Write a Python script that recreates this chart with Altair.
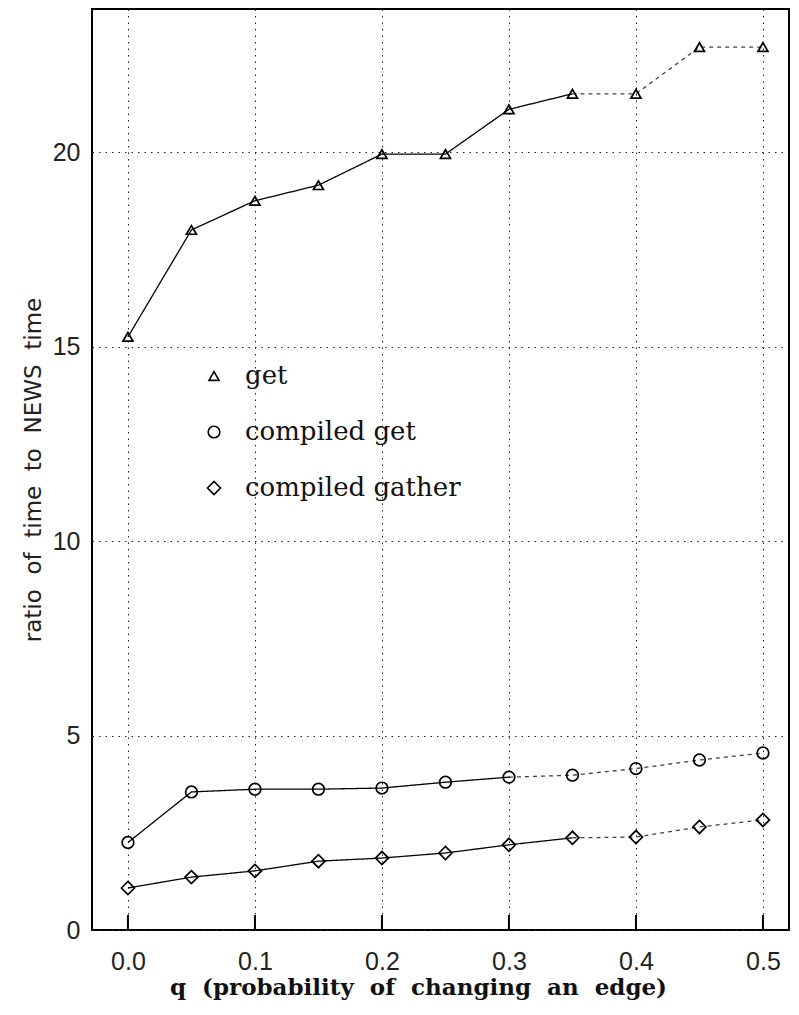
import altair as alt
import pandas as pd

# ---- data ----
q = [0.0, 0.05, 0.1, 0.15, 0.2, 0.25, 0.3, 0.35, 0.4, 0.45, 0.5]
get_vals = [15.25, 18.0, 18.75, 19.15, 19.95, 19.95, 21.1, 21.5, 21.5, 22.7, 22.7]
compiled_get = [2.25, 3.55, 3.62, 3.62, 3.65, 3.8, 3.93, 3.98, 4.15, 4.37, 4.55]
compiled_gather = [1.08, 1.36, 1.52, 1.77, 1.85, 1.98, 2.19, 2.37, 2.39, 2.65, 2.83]

series_names = ["get", "compiled get", "compiled gather"]
series_shapes = ["triangle-up", "circle", "diamond"]
series_sizes = [100, 170, 120]
solid_until = {"get": 0.35, "compiled get": 0.3, "compiled gather": 0.35}

x_ticks = [0.0, 0.1, 0.2, 0.3, 0.4, 0.5]
y_ticks = [0, 5, 10, 15, 20]

# ---- tables ----
pts = []
lines = []
for name, vals in zip(series_names, [get_vals, compiled_get, compiled_gather]):
    cut = solid_until[name]
    for xv, yv in zip(q, vals):
        pts.append({"series": name, "q": xv, "v": yv})
        if xv <= cut + 1e-9:
            lines.append({"series": name, "q": xv, "v": yv, "part": "solid"})
        if xv >= cut - 1e-9:
            lines.append({"series": name, "q": xv, "v": yv, "part": "faded"})
pts = pd.DataFrame(pts)
lines = pd.DataFrame(lines)
ticks_df = pd.DataFrame({"t": x_ticks})

W, H = 697, 921
xscale = alt.Scale(domain=[-0.0283, 0.5205], nice=False, zero=False)
yscale = alt.Scale(domain=[0, 23.68], nice=False, zero=False)

x_axis = alt.Axis(
    values=x_ticks, format=".1f", domain=False, ticks=False,
    grid=True, gridDash=[1.5, 5], gridColor="#222", gridWidth=1,
    labelFont="Liberation Sans", labelFontSize=25, labelColor="#222",
    labelPadding=19,
    title="q\u00a0\u00a0(probability\u00a0\u00a0of\u00a0\u00a0changing\u00a0\u00a0an\u00a0\u00a0edge)",
    titleFont="DejaVu Serif", titleFontSize=23, titleFontWeight="bold",
    titleColor="#111", titleX=326, titleY=57, titleBaseline="middle",
)
y_axis = alt.Axis(
    values=y_ticks, format="d", domain=False, ticks=False,
    grid=True, gridDash=[1.5, 5], gridColor="#222", gridWidth=1,
    labelFont="Liberation Sans", labelFontSize=25, labelColor="#222",
    labelPadding=12,
    title="ratio\u00a0\u00a0of\u00a0\u00a0time\u00a0\u00a0to\u00a0\u00a0NEWS\u00a0\u00a0time",
    titleFont="DejaVu Sans", titleFontSize=23, titleFontWeight="normal",
    titleColor="#222", titleX=-59, titleBaseline="middle",
)

line_layer = alt.Chart(lines).mark_line(color="black", strokeWidth=1.3).encode(
    x=alt.X("q:Q", scale=xscale, axis=x_axis),
    y=alt.Y("v:Q", scale=yscale, axis=y_axis),
    detail=alt.Detail(["series:N", "part:N"]),
    strokeDash=alt.StrokeDash(
        "part:N",
        scale=alt.Scale(domain=["solid", "faded"], range=[[1, 0], [4, 4]]),
        legend=None,
    ),
    opacity=alt.Opacity(
        "part:N", scale=alt.Scale(domain=["solid", "faded"], range=[1.0, 0.75]),
        legend=None,
    ),
)

legend = alt.Legend(
    title=None, orient="none", legendX=109, legendY=354,
    labelFont="DejaVu Serif", labelFontSize=26, labelColor="#111",
    labelLimit=500, labelOffset=18, rowPadding=30, symbolStrokeWidth=1.6,
    symbolStrokeColor="black", symbolFillColor="transparent",
)

point_layer = alt.Chart(pts).mark_point(
    filled=False, color="black", strokeWidth=1.7, opacity=1
).encode(
    x=alt.X("q:Q", scale=xscale),
    y=alt.Y("v:Q", scale=yscale),
    shape=alt.Shape("series:N",
                    scale=alt.Scale(domain=series_names, range=series_shapes),
                    legend=legend),
    size=alt.Size("series:N",
                  scale=alt.Scale(domain=series_names, range=series_sizes),
                  legend=legend),
)

tick_layer = alt.Chart(ticks_df).mark_rule(color="black", strokeWidth=2).encode(
    x=alt.X("t:Q", scale=xscale),
    y=alt.value(H),
    y2=alt.value(H - 15),
)

chart = alt.layer(line_layer, point_layer, tick_layer).properties(
    width=W, height=H,
    autosize=alt.AutoSizeParams(type="none"),
    padding={"left": 84, "top": 1, "right": 2, "bottom": 90},
    background="white",
).configure_view(
    stroke="black", strokeWidth=2
)

chart.save("out.html", embed_options={"renderer": "svg", "actions": False})
